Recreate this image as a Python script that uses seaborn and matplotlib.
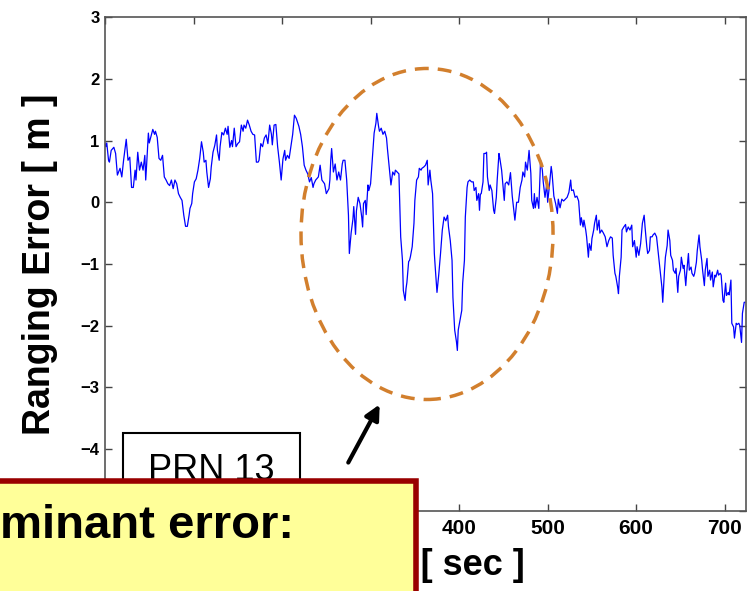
import matplotlib
matplotlib.use("Agg")
import matplotlib.pyplot as plt
from matplotlib.patches import Rectangle, Ellipse, FancyArrowPatch
import seaborn as sns

# ---------- data ----------
time_s = [
    0, 1, 2, 4, 5, 7, 10, 12, 14, 17, 19, 21, 22, 24, 26, 28, 30, 32, 34, 35,
    37, 39, 41, 43, 45, 46, 47, 49, 50, 52, 54, 56, 57, 59, 61, 63, 65, 67, 69, 71,
    73, 75, 77, 79, 81, 83, 85, 87, 89, 91, 93, 95, 96, 98, 99, 101, 103, 105, 107, 109,
    111, 112, 114, 115, 117, 119, 120, 122, 124, 126, 127, 129, 130, 132, 134, 136, 138, 139, 141, 143,
    144, 146, 148, 150, 152, 154, 156, 157, 159, 161, 163, 165, 167, 169, 171, 173, 174, 176, 178, 180,
    182, 184, 186, 188, 189, 191, 193, 195, 197, 199, 201, 203, 204, 206, 208, 210, 212, 214, 216, 219,
    221, 223, 225, 227, 229, 231, 233, 235, 236, 238, 241, 243, 245, 248, 250, 253, 254, 255, 256, 258,
    260, 262, 264, 266, 268, 269, 271, 273, 274, 275, 276, 278, 280, 281, 283, 284, 286, 288, 290, 291,
    292, 294, 295, 297, 298, 300, 302, 304, 306, 307, 309, 310, 312, 314, 316, 318, 319, 321, 323, 325,
    327, 328, 330, 332, 334, 336, 337, 339, 340, 341, 343, 344, 345, 347, 349, 350, 352, 354, 355, 357,
    358, 360, 362, 364, 365, 367, 368, 370, 372, 373, 375, 377, 379, 381, 383, 385, 387, 388, 390, 392,
    393, 395, 397, 398, 399, 401, 403, 404, 406, 407, 409, 410, 412, 414, 416, 417, 419, 420, 422, 423,
    424, 425, 427, 428, 430, 431, 432, 434, 435, 437, 439, 440, 442, 443, 445, 446, 448, 449, 451, 452,
    454, 456, 458, 460, 462, 463, 465, 467, 469, 471, 472, 474, 475, 477, 479, 481, 482, 484, 485, 486,
    488, 490, 492, 494, 495, 497, 499, 500, 502, 504, 505, 507, 509, 511, 512, 514, 516, 518, 520, 522,
    524, 526, 527, 529, 531, 533, 535, 537, 538, 540, 541, 543, 544, 546, 547, 549, 550, 552, 553, 555,
    556, 558, 559, 561, 563, 565, 567, 569, 571, 573, 574, 576, 577, 579, 580, 581, 583, 584, 586, 588,
    589, 591, 593, 595, 596, 598, 600, 601, 603, 605, 607, 609, 610, 612, 613, 615, 616, 618, 619, 621,
    623, 625, 627, 629, 630, 632, 633, 635, 636, 638, 639, 641, 642, 644, 645, 647, 648, 650, 651, 653,
    654, 656, 657, 659, 660, 662, 663, 665, 666, 668, 669, 671, 672, 674, 675, 677, 678, 680, 681, 683,
    684, 686, 687, 689, 690, 692, 693, 695, 696, 698, 699, 701, 702, 704, 705, 707, 708, 710, 711, 713,
    714, 716, 717, 719, 720, 722, 723,
]
error_m = [
    0.95, 0.90, 0.96, 0.68, 0.65, 0.84, 0.89, 0.79, 0.44, 0.55, 0.41, 0.68, 0.79, 1.02, 0.68, 0.73, 0.24, 0.24, 0.52, 0.36,
    0.81, 0.52, 0.65, 0.52, 0.76, 0.36, 0.60, 1.12, 0.96, 1.07, 1.18, 1.10, 1.15, 1.05, 0.71, 0.68, 0.76, 0.41, 0.36, 0.30,
    0.27, 0.36, 0.22, 0.36, 0.30, 0.14, 0.08, 0.03, -0.21, -0.39, -0.39, -0.21, -0.10, -0.02, 0.14, 0.33, 0.38, 0.52, 0.71, 0.98,
    0.81, 0.65, 0.68, 0.49, 0.24, 0.38, 0.57, 0.81, 0.92, 1.09, 0.84, 0.68, 0.90, 1.13, 1.09, 1.20, 1.10, 1.23, 0.89, 1.00,
    0.90, 1.20, 0.90, 0.95, 0.98, 1.25, 1.15, 1.25, 1.20, 1.33, 1.25, 1.15, 1.10, 1.09, 0.65, 0.65, 0.68, 0.95, 0.90, 1.04,
    1.09, 0.95, 1.25, 1.10, 0.93, 1.25, 1.26, 0.90, 0.65, 0.36, 0.70, 0.84, 0.68, 0.76, 0.71, 0.90, 1.10, 1.41, 1.36, 1.23,
    1.10, 0.90, 0.60, 0.52, 0.46, 0.33, 0.40, 0.24, 0.30, 0.36, 0.41, 0.60, 0.36, 0.30, 0.14, 0.22, 0.36, 0.68, 0.87, 0.49,
    0.62, 0.36, 0.49, 0.36, 0.62, 0.68, 0.68, 0.36, 0.08, -0.21, -0.83, -0.50, -0.28, -0.07, -0.52, -0.14, 0.08, -0.02, -0.24, -0.40,
    -0.02, 0.03, -0.20, 0.28, 0.19, 0.30, 0.71, 1.12, 1.28, 1.44, 1.23, 1.15, 1.20, 1.10, 1.15, 1.04, 0.87, 0.57, 0.28, 0.49,
    0.44, 0.52, 0.49, 0.46, -0.56, -0.94, -1.43, -1.59, -1.40, -1.30, -0.96, -0.94, -0.88, -0.72, -0.34, 0.03, 0.36, 0.41, 0.55, 0.52,
    0.55, 0.57, 0.60, 0.68, 0.28, 0.52, 0.36, 0.14, -0.83, -1.05, -1.46, -1.17, -0.83, -0.45, -0.24, -0.30, -0.21, -0.40, -0.62, -0.94,
    -1.54, -2.07, -2.26, -2.40, -2.07, -1.91, -1.75, -1.31, -0.94, -0.24, 0.24, 0.33, 0.36, 0.33, 0.33, 0.19, 0.24, 0.03, 0.14, -0.13,
    0.13, 0.14, 0.33, 0.79, 0.79, 0.81, 0.41, 0.19, 0.28, 0.19, -0.13, -0.18, 0.08, 0.36, 0.79, 0.71, 0.52, 0.36, 0.03, 0.30,
    0.33, 0.28, 0.48, 0.10, -0.15, -0.29, 0.00, 0.00, 0.24, 0.36, 0.49, 0.41, 0.65, 0.52, 0.84, 0.47, 0.03, -0.10, 0.14, -0.09,
    0.08, -0.10, 0.68, 0.52, 0.33, 0.08, 0.30, 0.00, 0.27, 0.58, 0.47, 0.10, -0.02, -0.18, 0.05, -0.09, 0.05, 0.02, 0.05, 0.08,
    0.16, 0.36, 0.19, 0.20, 0.08, 0.10, 0.02, -0.37, -0.25, -0.40, -0.29, -0.45, -0.56, -0.89, -0.67, -0.78, -0.59, -0.45, -0.34, -0.21,
    -0.45, -0.29, -0.50, -0.45, -0.50, -0.56, -0.72, -0.62, -0.56, -0.58, -0.86, -1.15, -1.20, -1.37, -1.48, -1.20, -0.89, -0.45, -0.40, -0.36,
    -0.48, -0.40, -0.45, -0.37, -0.72, -0.62, -0.89, -0.72, -0.86, -0.67, -0.34, -0.21, -0.40, -0.72, -0.83, -0.78, -0.56, -0.56, -0.53, -0.50,
    -0.56, -0.83, -1.10, -1.37, -1.62, -1.10, -0.89, -0.70, -0.45, -0.62, -0.86, -0.94, -1.10, -1.15, -1.07, -1.46, -1.20, -1.10, -0.89, -1.07,
    -1.02, -1.35, -1.15, -0.83, -1.10, -1.05, -1.15, -1.20, -1.15, -0.97, -0.78, -0.53, -0.72, -0.94, -1.10, -1.35, -1.10, -0.91, -1.20, -1.10,
    -1.26, -1.13, -1.37, -1.18, -1.21, -1.10, -1.18, -1.15, -1.18, -1.59, -1.62, -1.31, -1.51, -1.46, -1.50, -1.26, -1.96, -2.02, -2.20, -1.96,
    -1.98, -1.96, -2.00, -2.27, -1.80, -1.62, -1.62,
]

# tick positions; labels under the yellow callout are not visible in the slide
x_ticks = [0, 100, 200, 300, 400, 500, 600, 700]
x_tick_labels = ['', '', '', '', '400', '500', '600', '700']
y_ticks = [-5, -4, -3, -2, -1, 0, 1, 2, 3]
y_tick_labels = ['', '\u22124', '\u22123', '\u22122', '\u22121', '0', '1', '2', '3']

sns.set_style("white")
plt.rcParams['font.family'] = ['Liberation Sans', 'DejaVu Sans']
plt.rcParams['text.color'] = 'black'
plt.rcParams['axes.labelcolor'] = 'black'
plt.rcParams['xtick.color'] = 'black'
plt.rcParams['ytick.color'] = 'black'

fig = plt.figure(figsize=(7.51, 5.91), dpi=100)
ax = fig.add_axes([0.1398, 0.1354, 0.8535, 0.8358])

sns.lineplot(x=time_s, y=error_m, ax=ax, color='#0000FF', linewidth=0.9,
             estimator=None, sort=False)

ax.set_xlim(0, 724)
ax.set_ylim(-5, 3)
ax.set_xticks(x_ticks)
ax.set_yticks(y_ticks)
ax.set_xticklabels(x_tick_labels, fontsize=15, fontweight='heavy')
ax.set_yticklabels(y_tick_labels, fontsize=12, fontweight='heavy')
ax.tick_params(direction='in', length=5, width=1, color='#444444',
               top=True, right=True, bottom=True, left=True)
ax.tick_params(axis='x', pad=6)
ax.tick_params(axis='y', pad=4)
for s in ax.spines.values():
    s.set_color('#555555')
    s.set_linewidth(1.2)

ax.set_xlabel('Time [ sec ]', fontsize=26, fontweight='bold')
ax.xaxis.set_label_coords(0.5, -0.075)
ax.set_ylabel('Ranging Error [ m ]', fontsize=27, fontweight='bold')
ax.yaxis.set_label_coords(-0.073, 0.5)

# dashed ellipse around the large excursions
fig.add_artist(Ellipse((0.5686, 0.6041), 0.3356, 0.5601, transform=fig.transFigure,
                       fill=False, edgecolor='#D27F2D', linewidth=2.5,
                       linestyle=(0, (4, 2.6)), zorder=5))

# arrow pointing at the ellipse
fig.add_artist(FancyArrowPatch((0.462, 0.2132), (0.5073, 0.3198), transform=fig.transFigure,
                               arrowstyle='-|>', mutation_scale=22, linewidth=3,
                               color='black', zorder=6))

# PRN 13 label box
fig.add_artist(Rectangle((0.1638, 0.12), 0.2357, 0.1473, transform=fig.transFigure,
                         facecolor='white', edgecolor='black', linewidth=1.5, zorder=8))
fig.text(0.2816, 0.1878, 'PRN 13', fontsize=26, ha='center', va='baseline', zorder=9)

# yellow callout box covering the lower-left corner
fig.add_artist(Rectangle((-0.02, -0.05), 0.5739, 0.2361, transform=fig.transFigure,
                         facecolor='#FFFF99', edgecolor='#990000', linewidth=4, zorder=10))
fig.text(0.0, 0.0897, 'minant error:', fontsize=34, fontweight='bold',
         ha='left', va='baseline', zorder=11)

fig.savefig('out.png', dpi=100)
